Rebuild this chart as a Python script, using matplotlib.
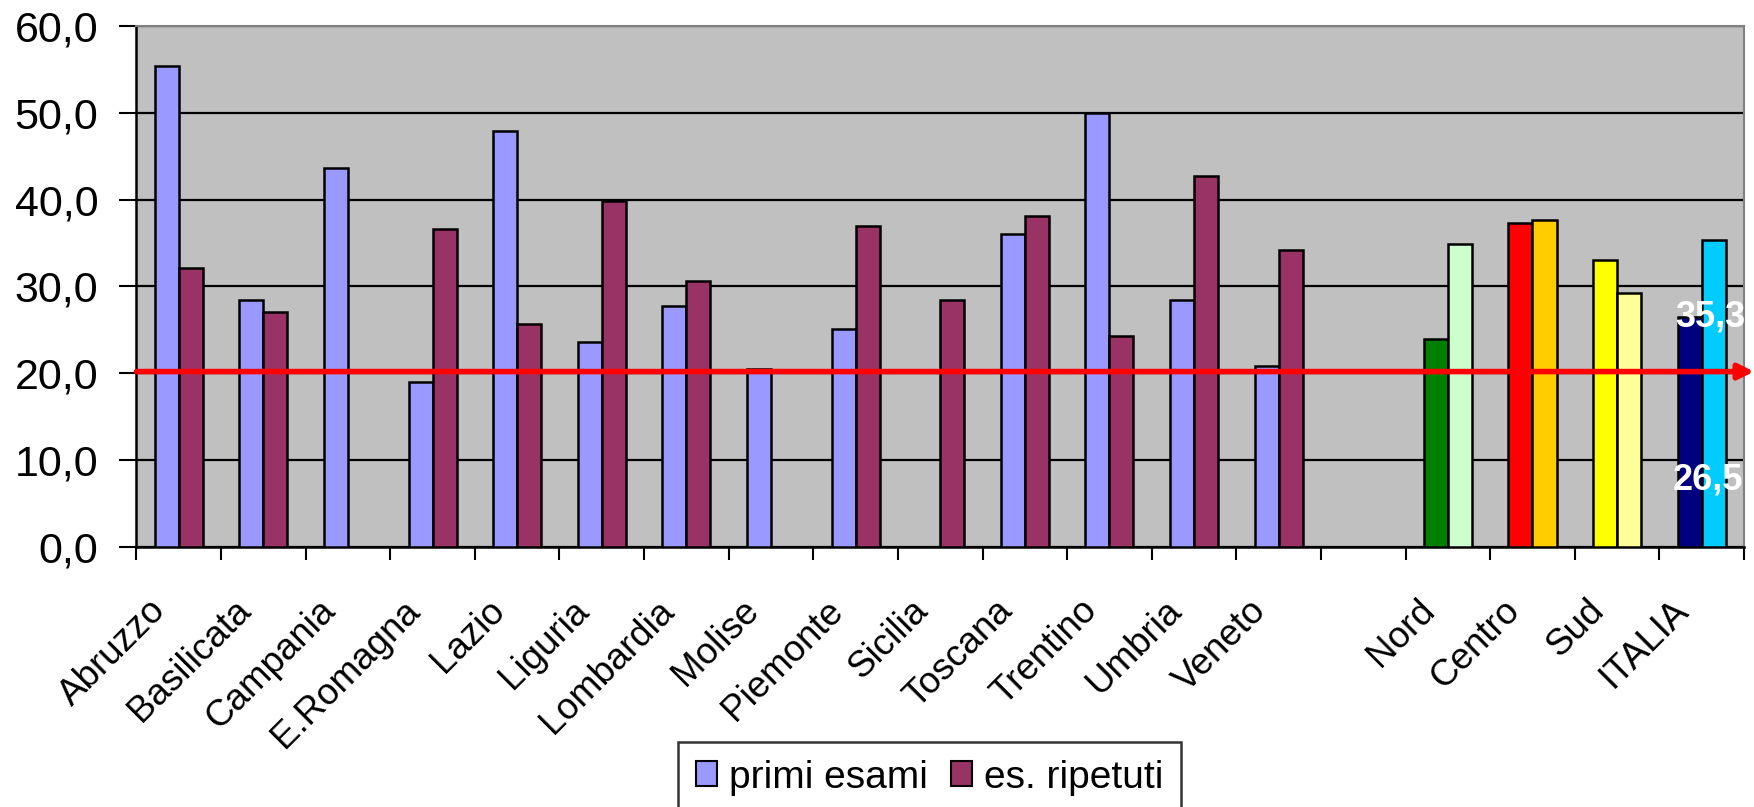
import matplotlib
matplotlib.use('Agg')
import matplotlib.pyplot as plt
import matplotlib.transforms as mtransforms
from matplotlib.patches import Patch
from matplotlib.ticker import FuncFormatter
import numpy as np

plt.rcParams['font.family'] = ['Liberation Sans', 'DejaVu Sans']

# regioni: primi esami / esami ripetuti
regioni = ['Abruzzo', 'Basilicata', 'Campania', 'E.Romagna', 'Lazio', 'Liguria',
           'Lombardia', 'Molise', 'Piemonte', 'Sicilia', 'Toscana', 'Trentino',
           'Umbria', 'Veneto']
primi = [55.4, 28.5, 43.7, 19.0, 47.9, 23.6, 27.8, 20.5, 25.1, np.nan, 36.0, 50.0, 28.5, 20.8]
ripetuti = [32.1, 27.1, np.nan, 36.6, 25.7, 39.8, 30.6, np.nan, 37.0, 28.5, 38.1, 24.3, 42.7, 34.2]

# aree geografiche, ognuna con i suoi colori
aree = ['Nord', 'Centro', 'Sud', 'ITALIA']
aree_primi = [24.0, 37.3, 33.1, 26.5]
aree_ripetuti = [34.9, 37.7, 29.2, 35.3]
colori_primi = ['#008000', '#FF0000', '#FFFF00', '#000080']
colori_ripetuti = ['#CCFFCC', '#FFCC00', '#FFFF99', '#00CCFF']

soglia = 20.2

etichette = regioni + [''] + aree
n = len(etichette)
x_reg = np.arange(len(regioni))
x_aree = np.arange(len(regioni) + 1, n)

fig = plt.figure(figsize=(17.54, 8.07), dpi=100)
ax = fig.add_axes([0.0778, 0.3222, 0.9165, 0.6456])
ax.set_facecolor('#C0C0C0')

w = 0.284
bordo = dict(edgecolor='black', linewidth=1.8, zorder=3)
ax.bar(x_reg - w / 2, primi, w, color='#9999FF', **bordo)
ax.bar(x_reg + w / 2, ripetuti, w, color='#993366', **bordo)
ax.bar(x_aree - w / 2, aree_primi, w, color=colori_primi, **bordo)
ax.bar(x_aree + w / 2, aree_ripetuti, w, color=colori_ripetuti, **bordo)

ax.set_xlim(-0.5, n - 0.5)
ax.set_ylim(0, 60)
ax.set_yticks(np.arange(0, 61, 10))
ax.yaxis.set_major_formatter(FuncFormatter(lambda v, p: f'{v:.1f}'.replace('.', ',')))
ax.yaxis.grid(True, color='black', linewidth=1.6, zorder=1)
ax.set_axisbelow(True)

ax.set_xticks(np.arange(-0.5, n, 1))
ax.set_xticklabels([])
ax.set_xticks(np.arange(n), minor=True)
ax.set_xticklabels(etichette, minor=True, rotation=45, ha='right', va='center',
                   rotation_mode='anchor', fontsize=26.5)
ax.tick_params(axis='x', which='major', length=9.5, width=1.5, direction='out')
ax.tick_params(axis='x', which='minor', length=0, pad=42)
ax.tick_params(axis='y', length=12, width=1.5, pad=15.5, labelsize=31)
sposta = mtransforms.ScaledTranslation(-0.18, 0, fig.dpi_scale_trans)
for lbl in ax.get_xticklabels(minor=True):
    lbl.set_transform(lbl.get_transform() + sposta)

for lato in ['left', 'bottom']:
    ax.spines[lato].set_color('black')
    ax.spines[lato].set_linewidth(1.8)
for lato in ['top', 'right']:
    ax.spines[lato].set_color('#808080')
    ax.spines[lato].set_linewidth(1.5)

# linea rossa con freccia
ax.annotate('', xy=(1.0, soglia), xycoords=('figure fraction', 'data'),
            xytext=(0.0, soglia), textcoords=('axes fraction', 'data'),
            arrowprops=dict(arrowstyle='-|>,head_length=0.9,head_width=0.45',
                            color='#FF0000', lw=4, shrinkA=0, shrinkB=0),
            zorder=5, annotation_clip=False)

# valori ITALIA
xi = x_aree[-1]
ax.text(xi + 0.1, aree_primi[-1], f'{aree_ripetuti[-1]:.1f}'.replace('.', ','),
        color='white', fontsize=26, fontweight='bold', ha='center', va='center',
        zorder=6, clip_on=False)
ax.text(xi + 0.07, aree_primi[-1] * 0.29, f'{aree_primi[-1]:.1f}'.replace('.', ','),
        color='white', fontsize=26, fontweight='bold', ha='center', va='center',
        zorder=6, clip_on=False)

maniglie = [Patch(facecolor='#9999FF', edgecolor='black', linewidth=1.5),
            Patch(facecolor='#993366', edgecolor='black', linewidth=1.5)]
leg = fig.legend(maniglie, ['primi esami', 'es. ripetuti'], loc='upper left',
                 bbox_to_anchor=(678 / 1754, 1 - 742 / 807), ncol=2, fontsize=28,
                 frameon=True, fancybox=False, edgecolor='black',
                 handlelength=0.55, handleheight=0.6, handletextpad=0.3,
                 columnspacing=0.6, borderpad=0.45, borderaxespad=0)
leg.get_frame().set_linewidth(1.8)

fig.savefig('out.png', dpi=100)
